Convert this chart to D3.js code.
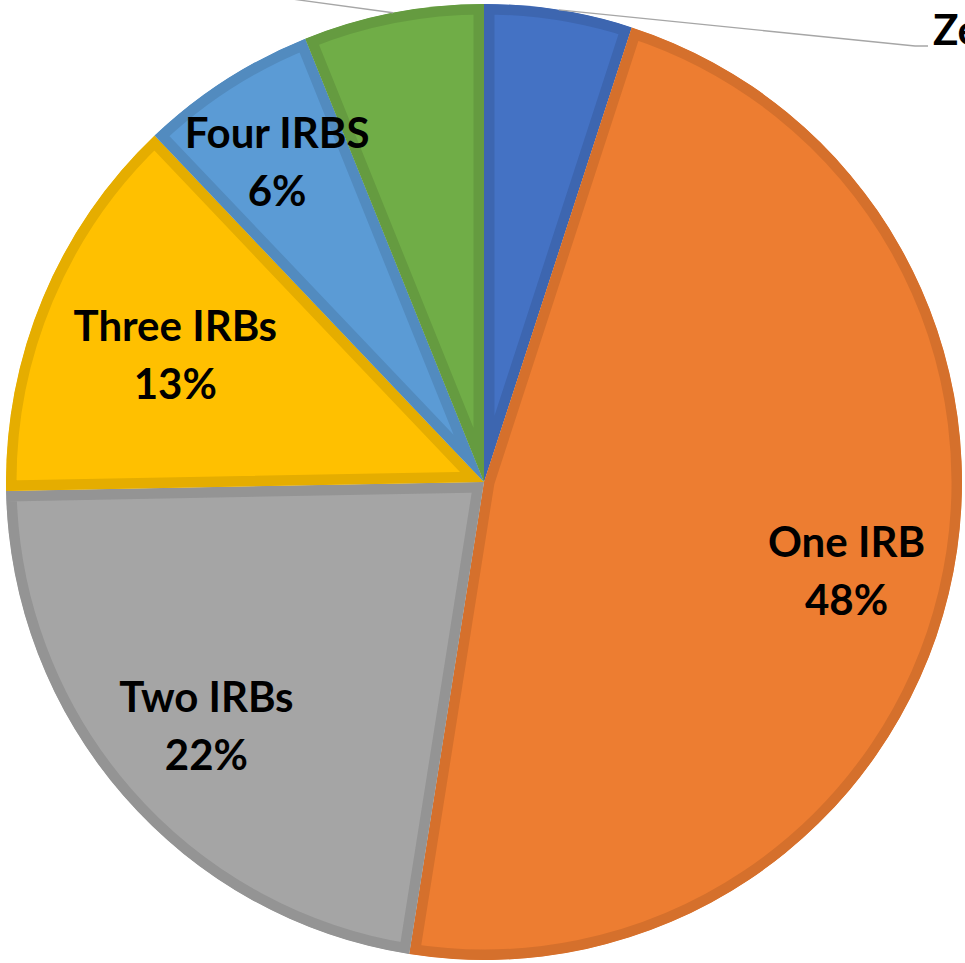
<!DOCTYPE html>
<html>
<head>
<meta charset="utf-8">
<script src="https://cdn.jsdelivr.net/npm/d3@7"></script>
<style>
  html, body { margin: 0; padding: 0; background: #fff; overflow: hidden; }
  svg { display: block; }
</style>
</head>
<body>
<svg width="965" height="963"></svg>
<script>
const categories = ['Zero IRBs', 'One IRB', 'Two IRBs', 'Three IRBs', 'Four IRBS', 'Five or More IRBs'];
const shares = [5.0, 47.5, 22.2, 13.2, 6.0, 6.1];
const sliceColors = ['#4472C4', '#ED7D31', '#A5A5A5', '#FFC000', '#5B9BD5', '#70AD47'];

const data = categories.map((c, i) => ({ name: c, value: shares[i], color: sliceColors[i] }));

const svg = d3.select('svg');
const cx = 484, cy = 482;
const radius = 478;
const fontSize = 42;
const fontFamily = 'Lato, "Open Sans", sans-serif';

// label placement (fraction of radius), like Excel "best fit"
const labelPos = { 'One IRB': 0.78, 'Two IRBs': 0.77, 'Three IRBs': 0.70, 'Four IRBS': 0.80 };

const pie = d3.pie().sort(null).value(d => d.value);
const arcs = pie(data);
const total = d3.sum(shares);
const pct = d => Math.round(d.data.value / total * 100) + '%';

const arc = d3.arc().innerRadius(0).outerRadius(radius);

const g = svg.append('g')
    .attr('transform', `translate(${cx},${cy})`);

const defs = svg.append('defs');
defs.selectAll('clipPath')
    .data(arcs)
    .join('clipPath')
    .attr('id', (d, i) => 'clip-' + i)
    .append('path')
    .attr('d', arc);

g.selectAll('path.slice')
    .data(arcs)
    .join('path')
    .attr('class', 'slice')
    .attr('d', arc)
    .attr('fill', d => d.data.color)
    .attr('stroke', d => d3.color(d.data.color).darker(0.3))
    .attr('stroke-width', 21)
    .attr('stroke-linejoin', 'round')
    .attr('clip-path', (d, i) => `url(#clip-${i})`);

// inside labels
const inside = arcs.filter(d => labelPos[d.data.name] !== undefined);
const labels = g.selectAll('g.label')
    .data(inside)
    .join('g')
    .attr('class', 'label')
    .attr('transform', d => {
        const r = radius * labelPos[d.data.name];
        const [x, y] = d3.arc().innerRadius(r).outerRadius(r).centroid(d);
        return `translate(${x},${y})`;
    });

labels.append('text')
    .attr('text-anchor', 'middle')
    .attr('font-family', fontFamily)
    .attr('font-weight', 'bold')
    .attr('font-size', fontSize)
    .attr('fill', '#000')
    .selectAll('tspan')
    .data(d => [d.data.name, pct(d)])
    .join('tspan')
    .attr('x', 0)
    .attr('y', (t, i) => i === 0 ? -12 : 46)
    .text(t => t);

// outside labels with leader lines
const edge = d => d3.arc().innerRadius(radius).outerRadius(radius).centroid(d);

const zero = arcs[0];
const [zx, zy] = edge(zero);
g.append('path')
    .attr('d', d3.line()([[zx, zy], [431, 45 - cy + 1], [444, 45 - cy + 1]]))
    .attr('fill', 'none')
    .attr('stroke', '#a6a6a6')
    .attr('stroke-width', 1.3);

const zeroText = g.append('text')
    .attr('font-family', fontFamily)
    .attr('font-weight', 'bold')
    .attr('font-size', fontSize)
    .attr('fill', '#000')
    .attr('x', 449)
    .attr('y', 45 - cy)
    .text(zero.data.name);
const zw = zeroText.node().getComputedTextLength();
g.append('text')
    .attr('font-family', fontFamily)
    .attr('font-weight', 'bold')
    .attr('font-size', fontSize)
    .attr('text-anchor', 'middle')
    .attr('x', 449 + zw / 2)
    .attr('y', 45 - cy + 58)
    .text(pct(zero));

const five = arcs[5];
const [fx, fy] = edge(five);
g.append('path')
    .attr('d', d3.line()([[fx, fy], [-611, -540], [-626, -540]]))
    .attr('fill', 'none')
    .attr('stroke', '#a6a6a6')
    .attr('stroke-width', 1.3);

const fiveLabel = g.append('text')
    .attr('font-family', fontFamily)
    .attr('font-weight', 'bold')
    .attr('font-size', fontSize)
    .attr('text-anchor', 'end')
    .attr('fill', '#000');
fiveLabel.append('tspan').attr('x', -632).attr('y', -540).text(five.data.name);
fiveLabel.append('tspan').attr('x', -760).attr('y', -482).text(pct(five));
</script>
</body>
</html>
